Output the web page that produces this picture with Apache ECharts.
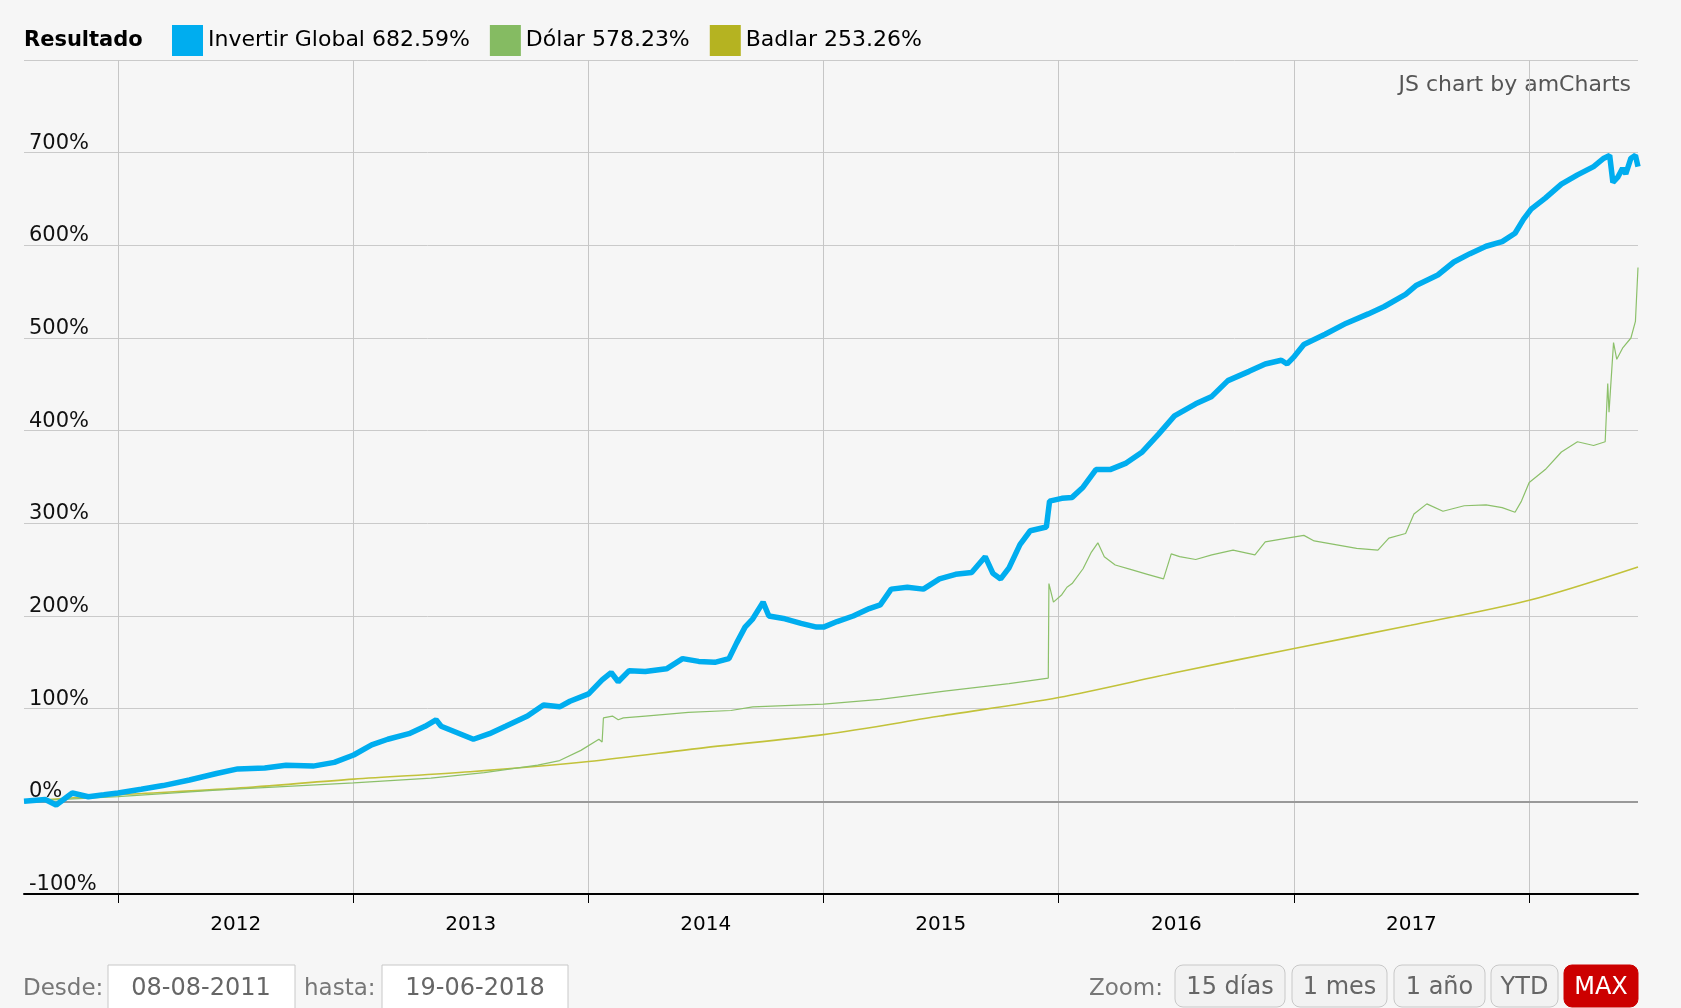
<!DOCTYPE html>
<html>
<head>
<meta charset="utf-8">
<title>Resultado</title>
<script src="https://cdn.jsdelivr.net/npm/echarts@6/dist/echarts.min.js"></script>
<style>
  html, body { margin: 0; padding: 0; background: #f6f6f6; }
  #chartBox { width: 1681px; height: 1008px; }
</style>
</head>
<body>
<div id="chartBox"></div>
<script>
// nombres de las series y rendimiento final (leyenda)
var seriesNames = ["Invertir Global", "Dólar", "Badlar"];
var finalReturns = [682.59, 578.23, 253.26];
var seriesColors = ["#00adef", "#85bb62", "#b5b321"];

// años del eje x
var years = [2012, 2013, 2014, 2015, 2016, 2017];
var yearTicks = [2012, 2013, 2014, 2015, 2016, 2017, 2018];
var startDate = "2011-08-08";
var endDate = "2018-06-19";

// Invertir Global (%)
var globalData = [
  ["2011-08-08", 0], ["2011-09-10", 2], ["2011-09-27", -4], ["2011-10-22", 9],
  ["2011-11-16", 5], ["2011-12-10", 7], ["2012-01-01", 9], ["2012-02-06", 13],
  ["2012-03-11", 17], ["2012-04-21", 23], ["2012-06-02", 30], ["2012-07-05", 35],
  ["2012-08-16", 36], ["2012-09-18", 39], ["2012-10-30", 38], ["2012-12-02", 42],
  ["2013-01-01", 50], ["2013-01-29", 61], ["2013-02-23", 67], ["2013-03-28", 73],
  ["2013-04-22", 81], ["2013-05-09", 88], ["2013-05-17", 81], ["2013-07-06", 67],
  ["2013-07-31", 73], ["2013-08-25", 81], ["2013-09-28", 92], ["2013-10-23", 104],
  ["2013-11-17", 102], ["2013-12-03", 108], ["2014-01-01", 116], ["2014-01-22", 131],
  ["2014-02-05", 139], ["2014-02-16", 129], ["2014-03-05", 141], ["2014-03-30", 140],
  ["2014-05-02", 143], ["2014-05-27", 154], ["2014-06-21", 151], ["2014-07-16", 150],
  ["2014-08-07", 154], ["2014-08-19", 171], ["2014-09-01", 188], ["2014-09-13", 197],
  ["2014-09-29", 215], ["2014-10-08", 200], ["2014-11-02", 197], ["2014-11-27", 192],
  ["2014-12-21", 188], ["2015-01-01", 188], ["2015-01-22", 194], ["2015-02-16", 200],
  ["2015-03-13", 208], ["2015-03-30", 212], ["2015-04-16", 229], ["2015-05-11", 231],
  ["2015-06-05", 229], ["2015-06-30", 240], ["2015-07-25", 245], ["2015-08-19", 247],
  ["2015-09-09", 264], ["2015-09-21", 246], ["2015-10-03", 240], ["2015-10-16", 252],
  ["2015-11-02", 277], ["2015-11-18", 292], ["2015-12-13", 296], ["2015-12-18", 324],
  ["2016-01-06", 327], ["2016-01-22", 328], ["2016-02-08", 339], ["2016-02-28", 358],
  ["2016-03-21", 358], ["2016-04-15", 365], ["2016-05-10", 377], ["2016-06-04", 396],
  ["2016-06-29", 416], ["2016-08-01", 429], ["2016-08-26", 437], ["2016-09-20", 454],
  ["2016-10-23", 464], ["2016-11-17", 472], ["2016-12-12", 476], ["2016-12-21", 472],
  ["2017-01-01", 480], ["2017-01-16", 493], ["2017-02-18", 504], ["2017-03-23", 516],
  ["2017-04-26", 526], ["2017-05-21", 534], ["2017-06-23", 547], ["2017-07-10", 557],
  ["2017-08-12", 568], ["2017-09-06", 582], ["2017-10-01", 591], ["2017-10-26", 599],
  ["2017-11-20", 604], ["2017-12-10", 613], ["2017-12-23", 628], ["2018-01-04", 639],
  ["2018-01-26", 651], ["2018-02-20", 666], ["2018-03-17", 676], ["2018-04-11", 685],
  ["2018-04-27", 694], ["2018-05-06", 697], ["2018-05-11", 668], ["2018-05-19", 674],
  ["2018-05-26", 683], ["2018-05-31", 677], ["2018-06-08", 694], ["2018-06-15", 697],
  ["2018-06-19", 685]
];

// Dólar (%)
var dolarData = [
  ["2011-08-08", 0], ["2012-01-01", 5], ["2012-06-02", 12], ["2013-01-01", 20],
  ["2013-05-01", 25], ["2013-07-23", 31], ["2013-10-14", 39], ["2013-11-17", 44],
  ["2013-12-20", 55], ["2014-01-17", 67], ["2014-01-22", 64], ["2014-01-24", 90],
  ["2014-02-07", 92], ["2014-02-16", 88], ["2014-02-24", 90], ["2014-03-30", 92],
  ["2014-06-05", 96], ["2014-08-10", 98], ["2014-09-13", 102], ["2015-01-01", 105],
  ["2015-03-30", 110], ["2015-07-08", 119], ["2015-10-16", 127], ["2015-12-16", 133],
  ["2015-12-17", 235], ["2015-12-24", 215], ["2016-01-06", 223], ["2016-01-14", 231],
  ["2016-01-22", 235], ["2016-02-08", 251], ["2016-02-21", 269], ["2016-03-02", 279],
  ["2016-03-12", 264], ["2016-03-29", 255], ["2016-04-23", 250], ["2016-05-18", 245],
  ["2016-06-12", 240], ["2016-06-24", 267], ["2016-07-07", 264], ["2016-08-01", 261],
  ["2016-08-26", 266], ["2016-09-28", 271], ["2016-11-01", 266], ["2016-11-17", 280],
  ["2016-12-21", 284], ["2017-01-16", 287], ["2017-02-01", 281], ["2017-03-06", 277],
  ["2017-04-08", 273], ["2017-05-11", 271], ["2017-05-28", 284], ["2017-06-23", 289],
  ["2017-07-06", 310], ["2017-07-26", 321], ["2017-08-20", 313], ["2017-09-22", 319],
  ["2017-10-26", 320], ["2017-11-20", 317], ["2017-12-10", 312], ["2017-12-20", 324],
  ["2018-01-01", 344], ["2018-01-26", 358], ["2018-02-20", 377], ["2018-03-17", 388],
  ["2018-04-11", 384], ["2018-04-29", 388], ["2018-05-03", 451], ["2018-05-05", 420],
  ["2018-05-12", 495], ["2018-05-17", 477], ["2018-05-26", 489], ["2018-06-08", 500],
  ["2018-06-15", 518], ["2018-06-19", 576]
];

// Badlar (%)
var badlarData = [
  ["2011-08-08", 0], ["2012-01-01", 7], ["2012-07-01", 14], ["2013-01-01", 24],
  ["2013-07-01", 32], ["2014-01-01", 43], ["2014-07-01", 58], ["2015-01-01", 72],
  ["2015-07-01", 92], ["2016-01-01", 112], ["2016-07-01", 139], ["2017-01-01", 165],
  ["2017-07-01", 190], ["2018-01-01", 217], ["2018-06-19", 253]
];

// controles de abajo (solo dibujados)
var zoomButtons = ["15 días", "1 mes", "1 año", "YTD", "MAX"];
var fromText = "08-08-2011";
var toText = "19-06-2018";

var FONT = "'DejaVu Sans', Verdana, sans-serif";

// fecha "YYYY-MM-DD" -> timestamp
function toTime(s) {
  var p = s.split("-");
  return new Date(+p[0], +p[1] - 1, +p[2]).getTime();
}
function toSeries(arr) {
  return arr.map(function (d) { return [toTime(d[0]), d[1]]; });
}

var myChart = echarts.init(document.getElementById("chartBox"));

// botones del zoom
var btnX = [1175, 1292, 1394, 1491, 1564];
var btnW = [110, 95, 91, 67, 74];
var graphics = [];
graphics.push({
  type: "text",
  style: { text: "JS chart by amCharts", x: 1631, y: 85, textAlign: "right", textVerticalAlign: "middle",
    fill: "#555", font: "22px " + FONT }
});
graphics.push({
  type: "text",
  style: { text: "Desde:", x: 23, y: 989, textAlign: "left", textVerticalAlign: "middle", fill: "#777", font: "23px " + FONT }
});
graphics.push({
  type: "rect", shape: { x: 108, y: 965, width: 187, height: 50 },
  style: { fill: "#fff", stroke: "#c8c8c8", lineWidth: 1 }
});
graphics.push({
  type: "text",
  style: { text: fromText, x: 201, y: 989, textAlign: "center", textVerticalAlign: "middle", fill: "#666", font: "24px " + FONT }
});
graphics.push({
  type: "text",
  style: { text: "hasta:", x: 304, y: 989, textAlign: "left", textVerticalAlign: "middle", fill: "#777", font: "23px " + FONT }
});
graphics.push({
  type: "rect", shape: { x: 382, y: 965, width: 186, height: 50 },
  style: { fill: "#fff", stroke: "#c8c8c8", lineWidth: 1 }
});
graphics.push({
  type: "text",
  style: { text: toText, x: 475, y: 989, textAlign: "center", textVerticalAlign: "middle", fill: "#666", font: "24px " + FONT }
});
graphics.push({
  type: "text",
  style: { text: "Zoom:", x: 1163, y: 989, textAlign: "right", textVerticalAlign: "middle", fill: "#777", font: "23px " + FONT }
});
zoomButtons.forEach(function (b, i) {
  var active = b === "MAX";
  graphics.push({
    type: "rect", shape: { x: btnX[i], y: 965, width: btnW[i], height: 42, r: 8 },
    style: { fill: active ? "#cc0000" : "#f2f2f2", stroke: active ? "#cc0000" : "#c8c8c8", lineWidth: 1 }
  });
  graphics.push({
    type: "text",
    style: { text: b, x: btnX[i] + btnW[i] / 2, y: 988, textAlign: "center", textVerticalAlign: "middle",
      fill: active ? "#fff" : "#666", font: "24px " + FONT }
  });
});

var option = {
  backgroundColor: "#f6f6f6",
  animation: false,
  textStyle: { fontFamily: FONT },
  title: {
    text: "Resultado",
    left: 19,
    top: 25,
    textStyle: { fontSize: 21, fontWeight: "bold", color: "#000", fontFamily: FONT }
  },
  legend: {
    left: 167,
    top: 20,
    itemWidth: 31,
    itemHeight: 31,
    itemGap: 20,
    icon: "rect",
    data: seriesNames,
    formatter: function (name) {
      var i = seriesNames.indexOf(name);
      return name + " " + finalReturns[i].toFixed(2) + "%";
    },
    textStyle: { fontSize: 22, color: "#000", fontFamily: FONT }
  },
  grid: { left: 24, right: 43, top: 60, bottom: 114 },
  xAxis: {
    type: "value",
    min: toTime(startDate),
    max: toTime(endDate),
    axisLine: { onZero: false, lineStyle: { color: "#000", width: 2 } },
    axisTick: {
      show: true,
      length: 9,
      lineStyle: { color: "#000", width: 1 },
      customValues: yearTicks.map(function (y) { return new Date(y, 0, 1).getTime(); })
    },
    splitLine: { show: true, lineStyle: { color: "#c6c6c6", width: 1 } },
    axisLabel: {
      customValues: years.map(function (y) { return new Date(y, 6, 2).getTime(); }),
      formatter: function (v) { return String(new Date(v).getFullYear()); },
      margin: 21,
      fontSize: 20,
      color: "#000",
      fontFamily: FONT
    }
  },
  yAxis: {
    type: "value",
    min: -100,
    max: 800,
    interval: 100,
    axisLine: { show: false },
    axisTick: { show: false },
    splitLine: { lineStyle: { color: "#cacaca", width: 1 } },
    axisLabel: {
      inside: true,
      margin: 5,
      verticalAlign: "bottom",
      lineHeight: 19,
      fontSize: 21,
      color: "#111",
      fontFamily: FONT,
      formatter: function (v) { return v === 800 ? "" : v + "%"; }
    }
  },
  graphic: graphics,
  series: [
    {
      name: seriesNames[0],
      type: "line",
      data: toSeries(globalData),
      showSymbol: false,
      symbol: "none",
      z: 5,
      itemStyle: { color: seriesColors[0] },
      lineStyle: { color: seriesColors[0], width: 5.5 }
    },
    {
      name: seriesNames[1],
      type: "line",
      data: toSeries(dolarData),
      showSymbol: false,
      symbol: "none",
      z: 4,
      itemStyle: { color: seriesColors[1] },
      lineStyle: { color: "#8cc06a", width: 1.2 }
    },
    {
      name: seriesNames[2],
      type: "line",
      data: toSeries(badlarData),
      showSymbol: false,
      symbol: "none",
      smooth: 0.3,
      z: 3,
      itemStyle: { color: seriesColors[2] },
      lineStyle: { color: "#c2c23a", width: 1.6 },
      markLine: {
        silent: true,
        symbol: "none",
        label: { show: false },
        lineStyle: { color: "#999", width: 2, type: "solid" },
        data: [{ yAxis: 0 }]
      }
    }
  ]
};

myChart.setOption(option);
</script>
</body>
</html>
